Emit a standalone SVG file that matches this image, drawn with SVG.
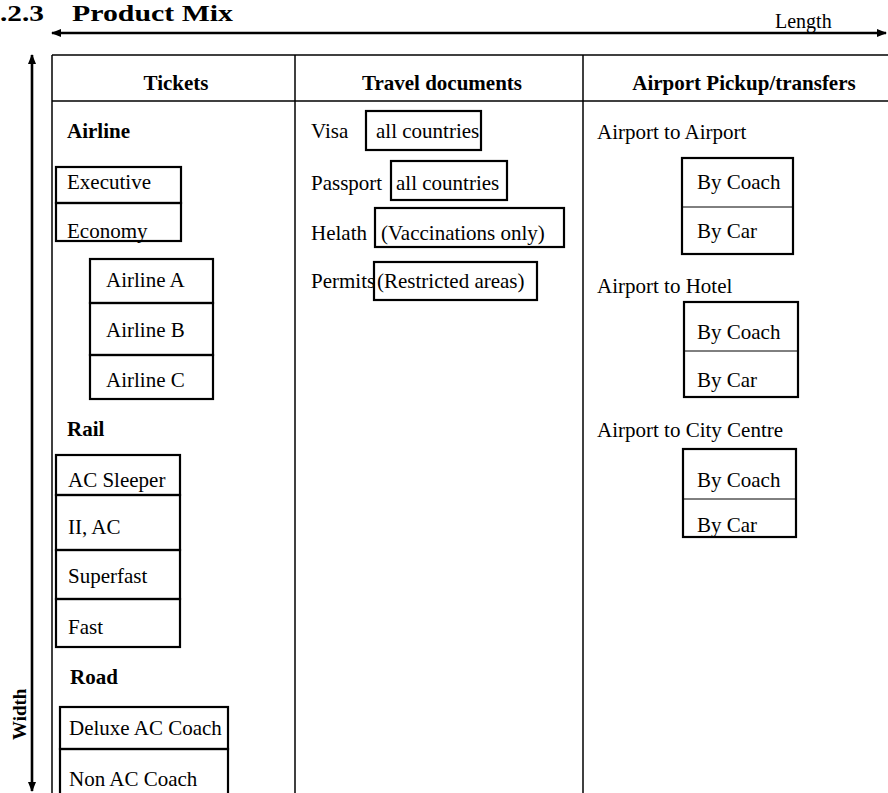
<svg xmlns="http://www.w3.org/2000/svg" width="888" height="793" viewBox="0 0 888 793">
<style>
text{font-family:"Liberation Serif","Times New Roman",serif;font-size:21px;fill:#000}
.b{font-weight:bold}
.h{font-weight:bold;text-anchor:middle}
.grid{stroke:#000;stroke-width:1.5;fill:none}
.box{fill:none;stroke:#000;stroke-width:2.2}
.thin{stroke:#000;stroke-width:1;fill:none}
.arrow{stroke:#000;stroke-width:2.6;fill:none}
</style>
<defs>
<marker id="ah" viewBox="0 0 10 8" refX="9" refY="4" markerUnits="userSpaceOnUse" markerWidth="11" markerHeight="8" orient="auto-start-reverse">
<path d="M0,0 L10,4 L0,8 Z" fill="#000"/>
</marker>
</defs>
<rect width="888" height="793" fill="#fff"/>

<g id="title">
<text class="b" y="21" style="font-size:23px"><tspan x="0" textLength="44" lengthAdjust="spacingAndGlyphs">.2.3</tspan><tspan x="72" textLength="161" lengthAdjust="spacingAndGlyphs">Product Mix</tspan></text>
</g>

<g id="connectors">
<line class="arrow" x1="52" y1="33" x2="886" y2="33" marker-start="url(#ah)" marker-end="url(#ah)"/>
<line class="arrow" x1="32" y1="55" x2="32" y2="791" marker-start="url(#ah)" marker-end="url(#ah)"/>
</g>

<g id="axis-labels">
<text x="775" y="28" style="font-size:20px">Length</text>
<text class="b" transform="translate(26,740) rotate(-90)" style="font-size:19px">Width</text>
</g>

<g id="table">
<line class="grid" x1="52" y1="55" x2="888" y2="55"/>
<line class="grid" x1="52" y1="101" x2="888" y2="101"/>
<line class="grid" x1="52" y1="55" x2="52" y2="793"/>
<line class="grid" x1="295" y1="55" x2="295" y2="793"/>
<line class="grid" x1="583" y1="55" x2="583" y2="793"/>
<text class="h" x="176" y="90">Tickets</text>
<text class="h" x="442" y="90">Travel documents</text>
<text class="h" x="744" y="90">Airport Pickup/transfers</text>
</g>

<g id="tickets">
<text class="b" x="67" y="138">Airline</text>
<g id="executive"><rect class="box" x="56" y="167" width="125" height="36"/><text x="67" y="189">Executive</text></g>
<g id="economy"><rect class="box" x="56" y="203" width="125" height="38"/><text x="67" y="238">Economy</text></g>
<g id="airline-a"><rect class="box" x="90" y="259" width="123" height="44"/><text x="106" y="287">Airline A</text></g>
<g id="airline-b"><rect class="box" x="90" y="303" width="123" height="52"/><text x="106" y="337">Airline B</text></g>
<g id="airline-c"><rect class="box" x="90" y="355" width="123" height="44"/><text x="106" y="387">Airline C</text></g>
<text class="b" x="67" y="436">Rail</text>
<g id="ac-sleeper"><rect class="box" x="56" y="455" width="124" height="40"/><text x="68" y="487">AC Sleeper</text></g>
<g id="ii-ac"><rect class="box" x="56" y="495" width="124" height="55"/><text x="68" y="534">II, AC</text></g>
<g id="superfast"><rect class="box" x="56" y="550" width="124" height="49"/><text x="68" y="583">Superfast</text></g>
<g id="fast"><rect class="box" x="56" y="599" width="124" height="48"/><text x="68" y="634">Fast</text></g>
<text class="b" x="70" y="684">Road</text>
<g id="deluxe"><rect class="box" x="60" y="707" width="168" height="42"/><text x="69" y="735">Deluxe AC Coach</text></g>
<g id="non-ac"><rect class="box" x="60" y="749" width="168" height="50"/><text x="69" y="786">Non AC Coach</text></g>
</g>

<g id="documents">
<g id="visa"><text x="311" y="138">Visa</text><rect class="box" x="366" y="111" width="115" height="39"/><text x="376" y="138">all countries</text></g>
<g id="passport"><text x="311" y="190">Passport</text><rect class="box" x="391" y="161" width="116" height="39"/><text x="396" y="190">all countries</text></g>
<g id="health"><text x="311" y="240">Helath</text><rect class="box" x="375" y="208" width="189" height="39"/><text x="381" y="240">(Vaccinations only)</text></g>
<g id="permits"><text x="311" y="288">Permits</text><rect class="box" x="374" y="262" width="163" height="38"/><text x="377" y="288">(Restricted areas)</text></g>
</g>

<g id="transfers">
<text x="597" y="139">Airport to Airport</text>
<g id="a2a"><rect class="box" x="682" y="158" width="111" height="96"/><line class="thin" x1="682" y1="207" x2="793" y2="207"/><text x="697" y="189">By Coach</text><text x="697" y="238">By Car</text></g>
<text x="597" y="293">Airport to Hotel</text>
<g id="a2h"><rect class="box" x="684" y="302" width="114" height="95"/><line class="thin" x1="684" y1="351" x2="798" y2="351"/><text x="697" y="339">By Coach</text><text x="697" y="387">By Car</text></g>
<text x="597" y="437">Airport to City Centre</text>
<g id="a2c"><rect class="box" x="683" y="449" width="113" height="88"/><line class="thin" x1="683" y1="499" x2="796" y2="499"/><text x="697" y="487">By Coach</text><text x="697" y="532">By Car</text></g>
</g>
</svg>
